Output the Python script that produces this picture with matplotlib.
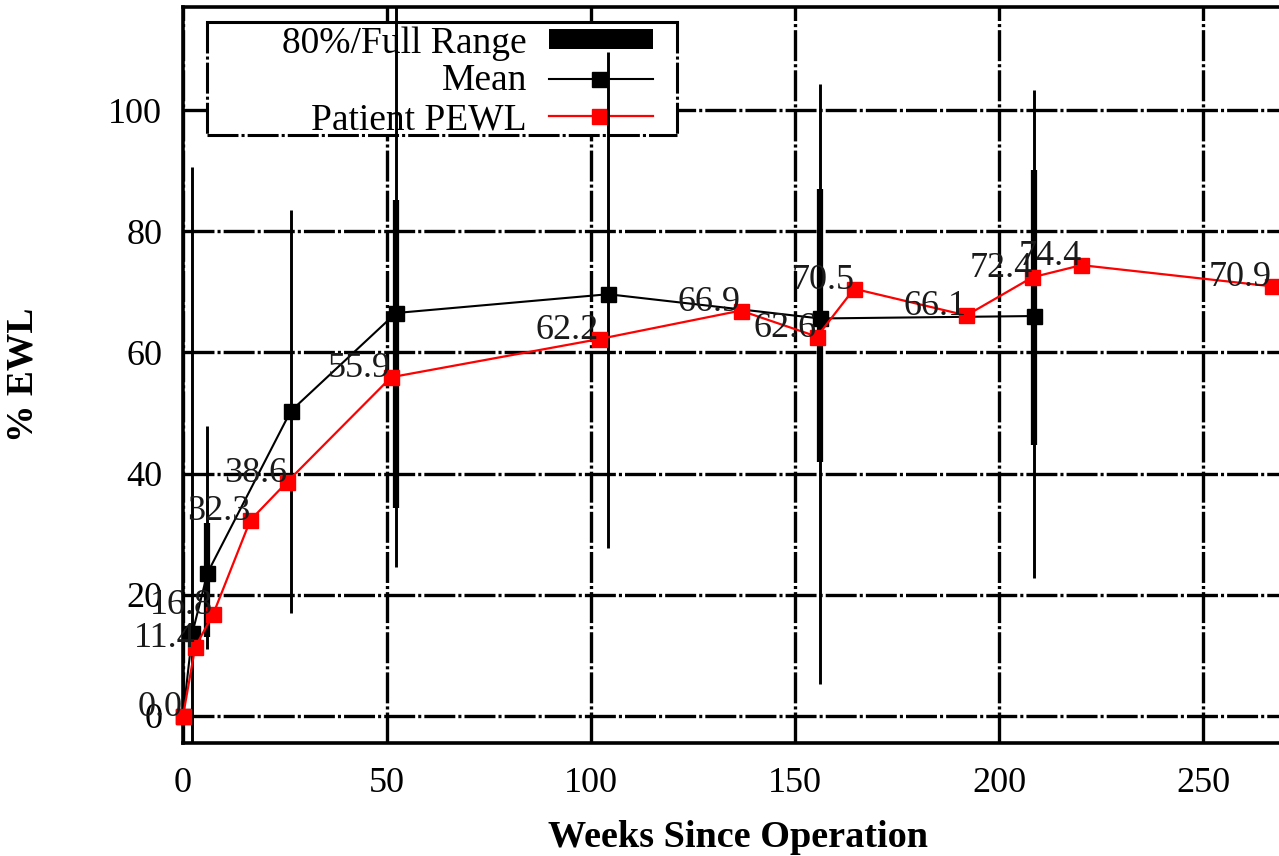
import numpy as np
import matplotlib
matplotlib.use("Agg")
import matplotlib.pyplot as plt
from matplotlib.lines import Line2D
from matplotlib.patches import Rectangle

# ---------------- data ----------------
mean_weeks = [0, 2.3, 6, 26.4, 52.2, 104.2, 156.1, 208.6]
mean_ewl = [0.0, 13.7, 23.6, 50.3, 66.5, 69.6, 65.6, 66.0]
full_low = [np.nan, -5.0, 11.1, 17.0, 24.6, 27.7, 5.3, 22.8]
full_high = [np.nan, 90.6, 47.9, 83.5, 125.0, 109.5, 104.3, 103.3]
p80_low = [np.nan, np.nan, 13.0, np.nan, 34.3, np.nan, 41.9, 44.7]
p80_high = [np.nan, np.nan, 31.9, np.nan, 85.1, np.nan, 87.0, 90.1]

patient_weeks = [0, 3.0, 7.4, 16.5, 25.5, 51.0, 102.0, 136.7, 155.4, 164.5, 192.0, 208.2, 220.2, 266.9]
patient_ewl = [0.0, 11.4, 16.8, 32.3, 38.6, 55.9, 62.2, 66.9, 62.6, 70.5, 66.1, 72.4, 74.4, 70.9]

x_ticks = [0, 50, 100, 150, 200, 250]
y_ticks = [0, 20, 40, 60, 80, 100]

legend_labels = ["80%/Full Range", "Mean", "Patient PEWL"]

# ---------------- style ----------------
plt.rcParams["font.family"] = ["Liberation Serif", "DejaVu Serif"]
plt.rcParams["lines.scale_dashes"] = False

W, H = 1279, 856
fig = plt.figure(figsize=(W / 100, H / 100), dpi=100)
ax = fig.add_axes([183 / W, (H - 743) / H, (1281 - 183) / W, 736 / H])

ax.set_xlim(0, 1098 / 4.08)
ax.set_ylim(-4.46, 117.0)

for s in ["left", "bottom", "top"]:
    ax.spines[s].set_linewidth(2.6)
ax.spines["right"].set_visible(False)

ax.set_xticks(x_ticks)
ax.set_yticks(y_ticks)
ax.tick_params(axis="both", direction="in", length=8, width=2, labelsize=26, top=True)
ax.tick_params(axis="x", pad=17)
ax.tick_params(axis="y", pad=15)

dashdot = (0, (22.3, 2.2, 2.2, 2.2))
ax.set_axisbelow(True)
ax.grid(True, color="black", linewidth=2.4, linestyle=dashdot)

ax.set_xlabel("Weeks Since Operation", fontsize=27.5, fontweight="bold")
ax.xaxis.set_label_coords((738 - 183) / 1098, -0.104)
ax.set_ylabel("% EWL", fontsize=27, fontweight="bold")
ax.yaxis.set_label_coords((41 - 183) / 1098, 0.5)

# ---------------- legend box (opaque, above grid, below data) ----------------
def fx(px):
    return px / W

def fy(py):
    return 1 - py / H

tf = fig.transFigure
box_l, box_r, box_t, box_b = 207, 677, 21.7, 135
rect = Rectangle((fx(box_l), fy(box_b)), fx(box_r) - fx(box_l), fy(box_t) - fy(box_b),
                 transform=tf, facecolor="white", edgecolor="none", zorder=1.5, clip_on=False)
ax.add_artist(rect)
ax.add_artist(Line2D([fx(box_l), fx(box_r)], [fy(box_t), fy(box_t)], transform=tf,
                     color="black", lw=2.2, zorder=1.6, clip_on=False))
for xs, ys in [([box_l, box_l], [box_t, box_b]), ([box_r, box_r], [box_t, box_b]),
               ([box_l, box_r], [box_b, box_b])]:
    ax.add_artist(Line2D([fx(v) for v in xs], [fy(v) for v in ys], transform=tf,
                         color="black", lw=2.2, linestyle=dashdot, zorder=1.6, clip_on=False))

row_base = [53, 90, 129]
row_mid = [39, 79, 116]
for lab, yb in zip(legend_labels, row_base):
    ax.text(fx(527), fy(yb), lab, transform=tf, ha="right", va="baseline",
            fontsize=27, zorder=1.7)
ax.add_artist(Line2D([fx(549), fx(653)], [fy(row_mid[0])] * 2, transform=tf,
                     color="black", lw=14.4, solid_capstyle="butt", zorder=1.7, clip_on=False))
ax.add_artist(Line2D([fx(549), fx(653)], [fy(row_mid[1])] * 2, transform=tf,
                     color="black", lw=1.5, zorder=1.7, clip_on=False))
ax.add_artist(Line2D([fx(599)], [fy(row_mid[1])], transform=tf, color="black",
                     marker="s", ms=10.8, lw=0, zorder=1.8, clip_on=False))
ax.add_artist(Line2D([fx(549), fx(653)], [fy(row_mid[2])] * 2, transform=tf,
                     color="red", lw=1.6, zorder=1.7, clip_on=False))
ax.add_artist(Line2D([fx(599)], [fy(row_mid[2])], transform=tf, color="red",
                     marker="s", ms=10.8, lw=0, zorder=1.8, clip_on=False))

# ---------------- data marks ----------------
ax.vlines(mean_weeks, full_low, full_high, colors="black", linewidth=2.1, zorder=3)
ax.vlines(mean_weeks, p80_low, p80_high, colors="black", linewidth=4.5, zorder=3)

ax.plot(mean_weeks, mean_ewl, color="black", lw=1.5, marker="s", ms=10.8,
        zorder=4, clip_on=False)
ax.plot(patient_weeks, patient_ewl, color="red", lw=1.6, marker="s", ms=10.8,
        mec="red", mfc="red", zorder=5, clip_on=False)

for xv, yv in zip(patient_weeks, patient_ewl):
    ax.text(xv, yv, f"{yv:.1f}", ha="right", va="baseline", fontsize=26,
            color="#1a1a1a", zorder=6)

fig.savefig("out.png", dpi=100)
